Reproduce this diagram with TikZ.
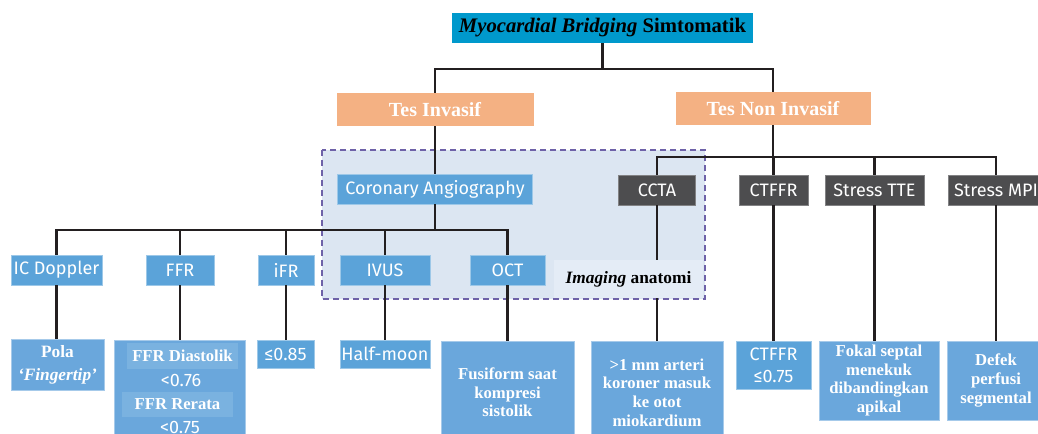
\documentclass[tikz,border=0pt]{standalone}
\usepackage{fontspec}
\setmainfont{Liberation Serif}
\setsansfont{Fira Sans}

\definecolor{titleblue}{RGB}{0,153,204}
\definecolor{peach}{RGB}{244,177,131}
\definecolor{midblue}{RGB}{91,163,217}
\definecolor{paleblue}{RGB}{106,167,220}
\definecolor{subblue}{RGB}{122,178,224}
\definecolor{darkbox}{RGB}{77,77,79}
\definecolor{shade}{RGB}{220,230,242}
\definecolor{shadelight}{RGB}{228,236,246}
\definecolor{dashpurple}{RGB}{110,98,168}
\definecolor{linegray}{RGB}{35,31,32}

\begin{document}
\begin{tikzpicture}[x=0.75pt,y=-0.75pt,
    wh/.style 2 args={minimum width=#1*0.75pt,minimum height=#2*0.75pt},
    sanslbl/.style={inner sep=0pt,text=white,font=\sffamily\fontsize{13.5}{16}\selectfont},
    seriflbl/.style={inner sep=0pt,text=white,align=center,font=\bfseries\fontsize{12.5}{14}\selectfont},
    bluebox/.style={sanslbl,fill=midblue,draw=midblue!60!white,line width=0.5pt},
    darkbox/.style={sanslbl,fill=darkbox,draw=darkbox!70!white,line width=0.5pt},
    resbox/.style={seriflbl,fill=paleblue,draw=paleblue!60!white,line width=0.5pt},
    ffrsub/.style={seriflbl,fill=subblue,font=\bfseries\fontsize{12.5}{14}\selectfont},
    link/.style={draw=linegray,line width=1.8pt}]
  \useasboundingbox (0,0) rectangle (1038,434);
  \clip (0,0) rectangle (1038,434);

  % shaded area round the angiography branch
  \draw[fill=shade,draw=dashpurple,line width=1.3pt,dash pattern=on 4.5pt off 3pt]
    (322,150) rectangle (705,299);

  % top levels
  \node[inner sep=0pt,fill=titleblue,wh={301}{30},font=\bfseries\fontsize{15.5}{17}\selectfont] (title) at (602.5,28)
    {\textit{Myocardial Bridging} Simtomatik};
  \node[seriflbl,fill=peach,wh={197}{33},font=\bfseries\fontsize{15}{17}\selectfont] (tesinv) at (435,109.5) {Tes Invasif};
  \node[seriflbl,fill=peach,wh={195}{33},font=\bfseries\fontsize{15}{17}\selectfont] (tesnon) at (773,108.5) {Tes Non Invasif};

  % methods
  \node[bluebox,wh={195}{30}] (ca) at (435,189) {Coronary Angiography};
  \node[darkbox,wh={77}{30}] (ccta) at (657,190) {CCTA};
  \node[darkbox,wh={69}{30}] (ctffr) at (773.5,190) {CTFFR};
  \node[darkbox,wh={99}{30}] (tte) at (874.5,190) {Stress TTE};
  \node[darkbox,wh={96}{30}] (mpi) at (996,190) {Stress MPI};

  \node[bluebox,wh={91}{30}] (icd) at (56.5,270) {IC Doppler};
  \node[bluebox,wh={68}{30}] (ffr) at (180,270) {FFR};
  \node[bluebox,wh={56}{30}] (ifr) at (286,270) {iFR};
  \node[bluebox,wh={90}{30}] (ivus) at (385,270) {IVUS};
  \node[bluebox,wh={75}{30}] (oct) at (507.5,270) {OCT};
  \node[inner sep=0pt,fill=shadelight,wh={149}{38},font=\bfseries\fontsize{13}{15}\selectfont] (img) at (628.5,279)
    {\textit{Imaging} anatomi};

  % findings
  \node[resbox,wh={93}{51},font=\bfseries\fontsize{13}{17}\selectfont] (pola) at (57.5,364.5) {Pola\\\textit{‘Fingertip’}};
  \node[resbox,wh={131}{104}] (ffrres) at (179.5,392) {};
  \node[ffrsub,wh={111}{26}] (ffrdia) at (182.5,356) {FFR Diastolik};
  \node[sanslbl] (ffrdiaval) at (181,380) {<0.76};
  \node[sanslbl] (ffrrerval) at (180,427) {<0.75};
  \node[ffrsub,wh={111}{25}] (ffrrer) at (177.5,404.5) {FFR Rerata};
  \node[bluebox,wh={57}{28}] (ifrres) at (285.5,354) {≤0.85};
  \node[bluebox,wh={90}{28}] (ivusres) at (385,354) {Half-moon};
  \node[resbox,wh={133}{103}] (octres) at (507.5,392.5) {Fusiform saat\\kompresi\\sistolik};
  \node[resbox,wh={132}{103}] (arteri) at (657,392.5) {>1 mm arteri\\koroner masuk\\ke otot\\miokardium};
  \node[bluebox,wh={75}{48},align=center,font=\sffamily\fontsize{13.5}{16.5}\selectfont] (ctffrres) at (773.5,365)
    {CTFFR\\≤0.75};
  \node[resbox,wh={120}{79}] (fokal) at (879,380.5) {Fokal septal\\menekuk\\dibandingkan\\apikal};
  \node[resbox,wh={98}{79}] (defek) at (996,380.5) {Defek\\perfusi\\segmental};

  % tree lines
  \coordinate (topjoin) at (602.5,69);
  \draw[link] (title.south) -- (topjoin) -| (tesinv.north);
  \draw[link] (topjoin) -| (tesnon.north);
  \draw[link] (tesinv.south) -- (ca.north);

  \coordinate (cajoin) at (435,230);
  \draw[link] (ca.south) -- (cajoin);
  \foreach \n in {icd,ffr,ifr,ivus,oct}
    \draw[link] (cajoin) -| (\n.north);

  \coordinate (nonjoin) at (773,157);
  \draw[link] (tesnon.south) -- (nonjoin);
  \foreach \n in {ccta,ctffr,tte,mpi}
    \draw[link] (nonjoin) -| (\n.north);

  % down to the findings
  \draw[link] (icd.south) -- (icd.south |- pola.north);
  \draw[link] (ffr.south) -- (ffr.south |- ffrres.north);
  \draw[link] (ifr.south) -- (ifr.south |- ifrres.north);
  \draw[link] (ivus.south) -- (ivus.south |- ivusres.north);
  \draw[link] (oct.south) -- (oct.south |- octres.north);
  \draw[link] (ccta.south) -- (ccta.south |- img.north);
  \draw[link] (ccta.south |- img.south) -- (ccta.south |- arteri.north);
  \draw[link] (ctffr.south) -- (ctffr.south |- ctffrres.north);
  \draw[link] (tte.south) -- (tte.south |- fokal.north);
  \draw[link] (mpi.south) -- (mpi.south |- defek.north);
\end{tikzpicture}
\end{document}
